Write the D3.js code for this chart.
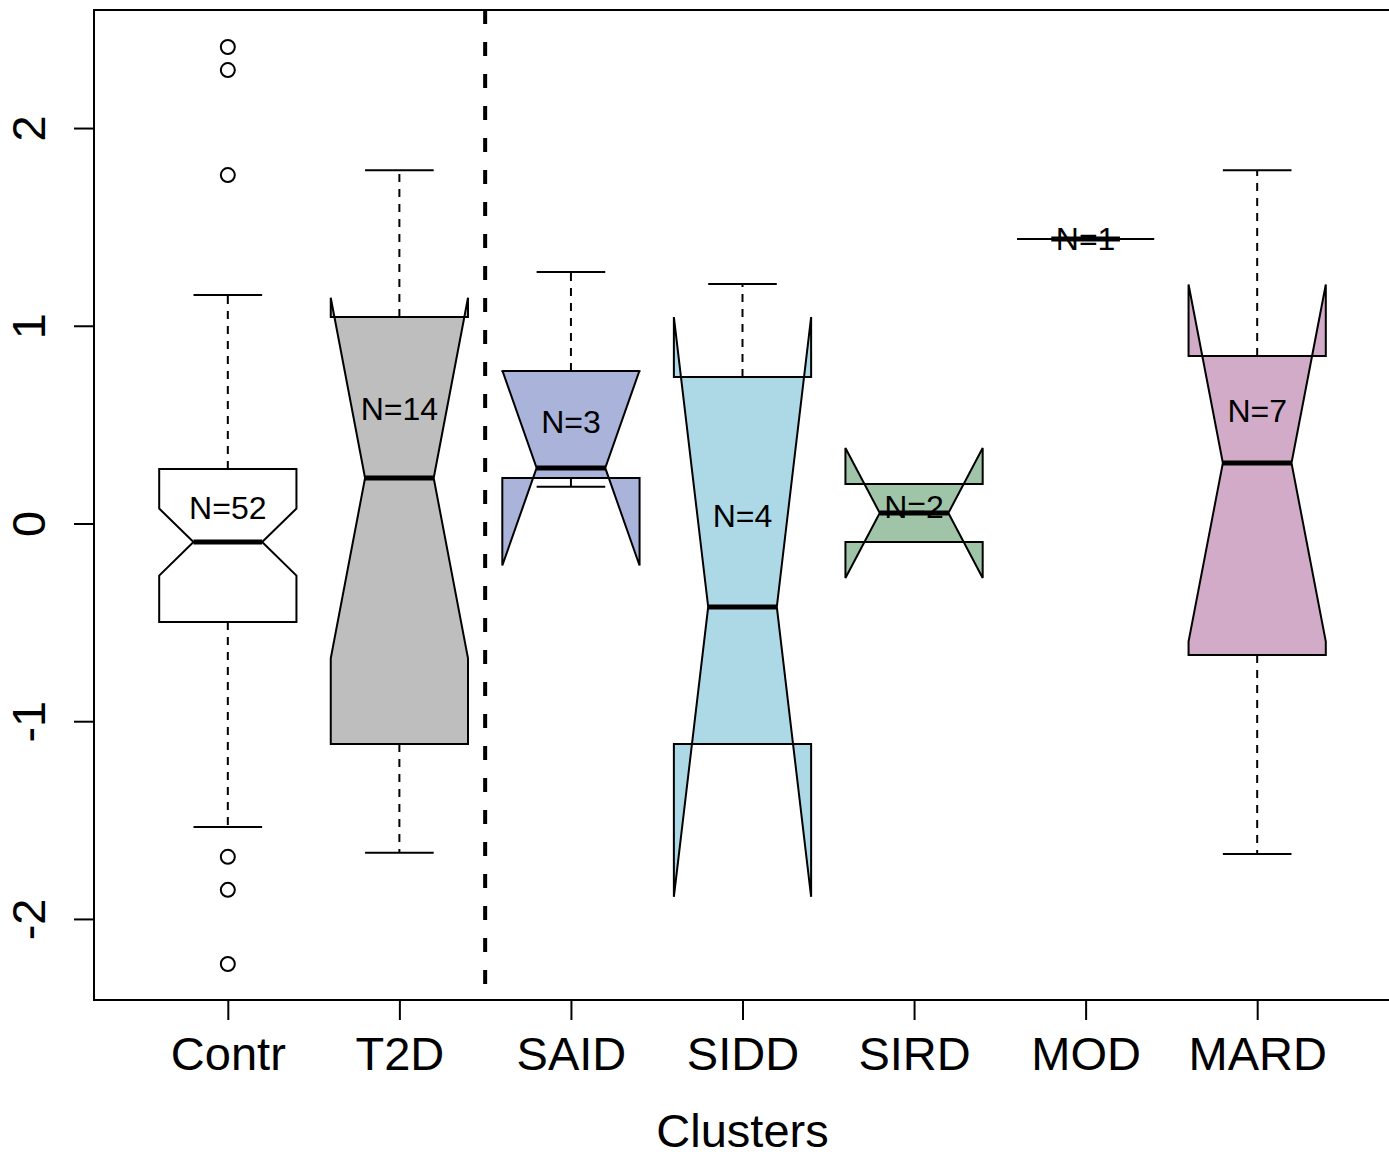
<!DOCTYPE html>
<html>
<head>
<meta charset="utf-8">
<script src="https://cdn.jsdelivr.net/npm/d3@7"></script>
<style>
  html, body { margin: 0; padding: 0; background: #ffffff; }
  svg { display: block; }
  text { font-family: "Liberation Sans", Arial, Helvetica, sans-serif; fill: #000; }
</style>
</head>
<body>
<svg id="chart" width="1389" height="1152"></svg>
<script>
// ---- data ----
const categories  = ["Contr", "T2D", "SAID", "SIDD", "SIRD", "MOD", "MARD"];
const counts      = [52, 14, 3, 4, 2, 1, 7];
const whiskerLow  = [-1.535, -1.665, 0.186, -1.115, -0.094, 1.439, -1.671];
const q1          = [-0.498, -1.115, 0.230, -1.115, -0.094, 1.439, -0.665];
const medians     = [-0.094, 0.230, 0.281, -0.422, 0.053, 1.439, 0.306];
const q3          = [0.276, 1.044, 0.771, 0.741, 0.200, 1.439, 0.847];
const whiskerHigh = [1.155, 1.787, 1.272, 1.211, 0.200, 1.439, 1.787];
const outliers    = [[2.41, 2.293, 1.762, -1.686, -1.853, -2.228], [], [], [], [], [], []];
const labelY      = [0.081, 0.584, 0.518, 0.038, 0.086, 1.441, 0.574];
const fills       = ["#FFFFFF", "#BEBEBE", "#AAB4DA", "#ADD8E6", "#9FC4A8", "#FFFFFF", "#D1ABC8"];
const yTicks      = [-2, -1, 0, 1, 2];
const xTitle      = "Clusters";

(function () {
// ---- layout ----
const svg = d3.select("#chart");
const pLeft = 94, pRight = 1391, pTop = 10, pBottom = 1000;
const x = d3.scaleLinear().domain([0.22, 7.78]).range([pLeft, pRight]);
const y = d3.scaleLinear().domain([-2.41, 2.597]).range([pBottom, pTop]);
const halfW = 0.4;      // boxwex 0.8
const notchFrac = 0.5;
const stapleW = 0.2;

const boxes = categories.map((c, i) => {
  const iqr = q3[i] - q1[i];
  const half = 1.58 * iqr / Math.sqrt(counts[i]);
  return {
    name: c, pos: i + 1, n: counts[i],
    lo: whiskerLow[i], q1: q1[i], med: medians[i], q3: q3[i], hi: whiskerHigh[i],
    cLo: medians[i] - half, cHi: medians[i] + half,
    out: outliers[i], ly: labelY[i], fill: fills[i]
  };
});

const g = svg.append("g");

// whiskers (dashed)
boxes.forEach(b => {
  const cx = x(b.pos);
  [[b.q3, b.hi], [b.q1, b.lo]].forEach(([a, e]) => {
    if (a !== e) {
      g.append("line").attr("x1", cx).attr("x2", cx).attr("y1", y(a)).attr("y2", y(e))
        .attr("stroke", "#000").attr("stroke-width", 2).attr("stroke-dasharray", "8,7");
    }
  });
  [b.hi, b.lo].forEach(e => {
    g.append("line").attr("x1", x(b.pos - stapleW)).attr("x2", x(b.pos + stapleW))
      .attr("y1", y(e)).attr("y2", y(e)).attr("stroke", "#000").attr("stroke-width", 2);
  });
});

// notched boxes
boxes.forEach(b => {
  const xs = [-1, 1, 1, notchFrac, 1, 1, -1, -1, -notchFrac, -1].map(k => x(b.pos + halfW * k));
  const ys = [b.q1, b.q1, b.cLo, b.med, b.cHi, b.q3, b.q3, b.cHi, b.med, b.cLo].map(v => y(v));
  const pts = xs.map((xx, k) => [xx, ys[k]]);
  g.append("path").attr("d", d3.line()(pts) + "Z")
    .attr("fill", b.fill).attr("stroke", "#000").attr("stroke-width", 2)
    .attr("stroke-linejoin", "miter");
});

// medians
boxes.forEach(b => {
  g.append("line").attr("x1", x(b.pos - halfW * notchFrac)).attr("x2", x(b.pos + halfW * notchFrac))
    .attr("y1", y(b.med)).attr("y2", y(b.med)).attr("stroke", "#000").attr("stroke-width", 5);
});

// outliers
boxes.forEach(b => {
  b.out.forEach(v => {
    g.append("circle").attr("cx", x(b.pos)).attr("cy", y(v)).attr("r", 7)
      .attr("fill", "none").attr("stroke", "#000").attr("stroke-width", 2);
  });
});

// N labels
boxes.forEach(b => {
  g.append("text").attr("x", x(b.pos)).attr("y", y(b.ly)).attr("dy", "0.36em")
    .attr("text-anchor", "middle").style("font-size", "32px").text("N=" + b.n);
});

// separator line
svg.append("line").attr("x1", x(2.5)).attr("x2", x(2.5)).attr("y1", pTop).attr("y2", pBottom)
  .attr("stroke", "#000").attr("stroke-width", 4).attr("stroke-dasharray", "14,18");

// frame
svg.append("rect").attr("x", pLeft).attr("y", pTop).attr("width", pRight - pLeft).attr("height", pBottom - pTop)
  .attr("fill", "none").attr("stroke", "#000").attr("stroke-width", 2);

// y axis
const yAxis = svg.append("g").attr("transform", `translate(${pLeft},0)`)
  .call(d3.axisLeft(y).tickValues(yTicks).tickSize(20).tickFormat(d => String(d)));
yAxis.select(".domain").remove();
yAxis.selectAll(".tick line").attr("stroke", "#000").attr("stroke-width", 2);
yAxis.selectAll(".tick text")
  .attr("x", 0).attr("dy", 0).attr("text-anchor", "middle")
  .attr("transform", "translate(-49,0) rotate(-90)")
  .style("font-size", "47px").style("font-family", "'Liberation Sans', Arial, sans-serif");

// x axis
const xAxis = svg.append("g").attr("transform", `translate(0,${pBottom})`)
  .call(d3.axisBottom(x).tickValues(d3.range(1, categories.length + 1)).tickSize(20)
    .tickFormat(d => categories[d - 1]));
xAxis.select(".domain").remove();
xAxis.selectAll(".tick line").attr("stroke", "#000").attr("stroke-width", 2);
xAxis.selectAll(".tick text").attr("y", 70).attr("dy", 0)
  .style("font-size", "47px").style("font-family", "'Liberation Sans', Arial, sans-serif");

// x title
svg.append("text").attr("x", x(4)).attr("y", 1147).attr("text-anchor", "middle")
  .style("font-size", "47px").text(xTitle);
})();
</script>
</body>
</html>
